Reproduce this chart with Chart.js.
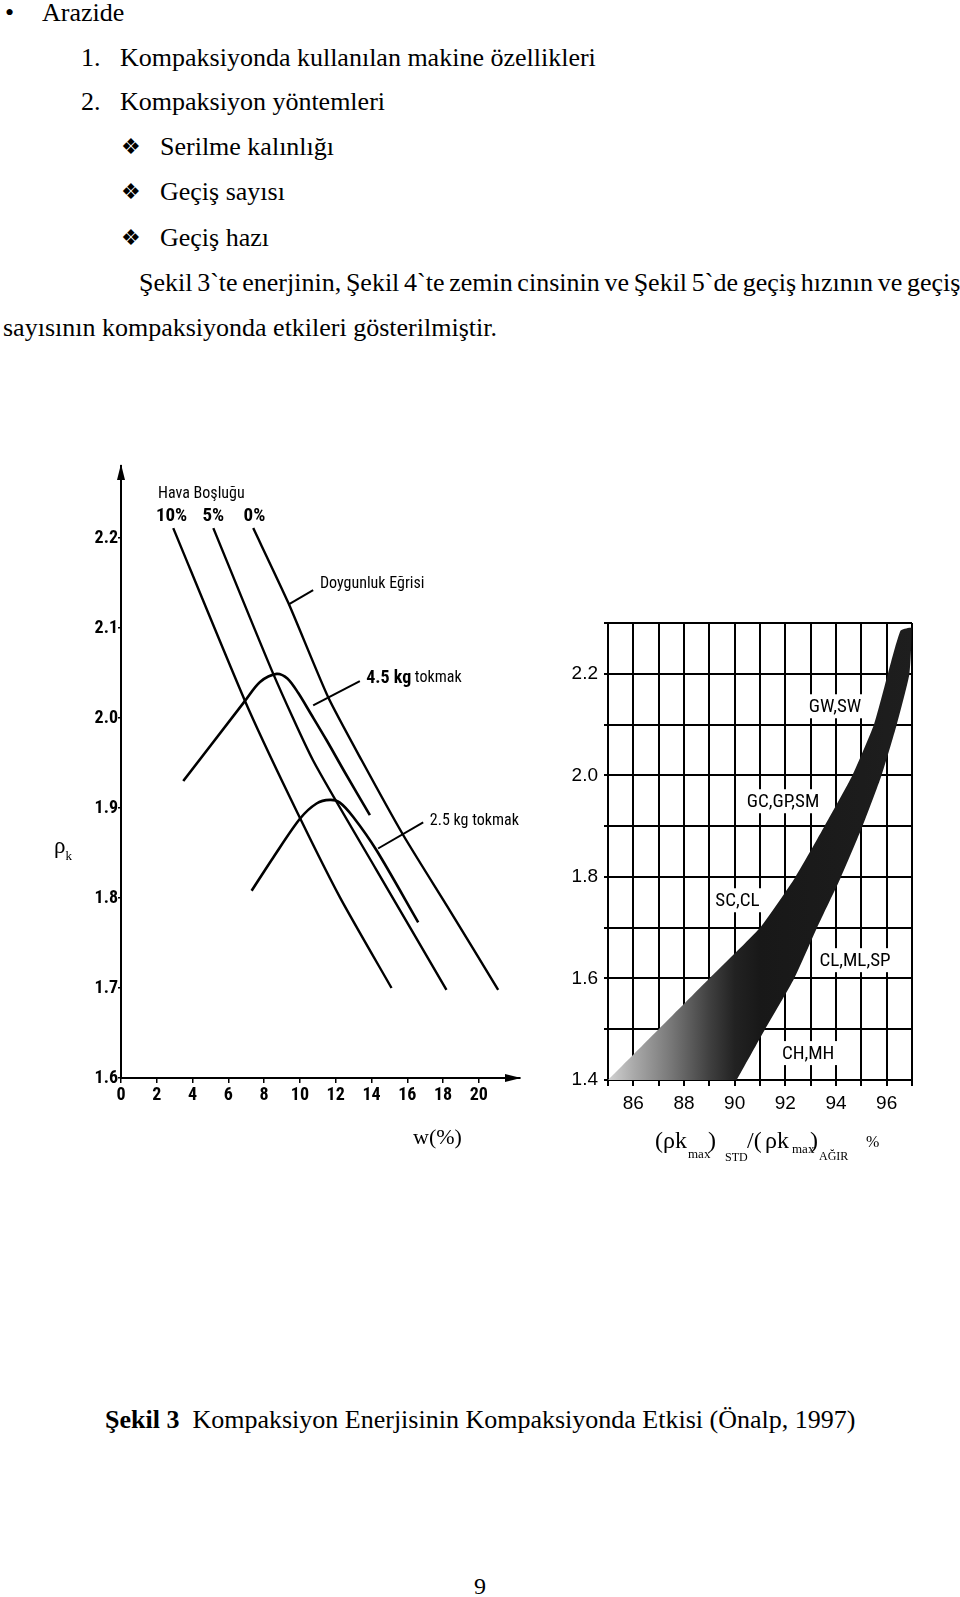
<!DOCTYPE html>
<html lang="tr">
<head>
<meta charset="utf-8">
<title>Şekil 3 - Kompaksiyon Enerjisi</title>
<script src="https://cdn.jsdelivr.net/npm/chart.js@4.4.0/dist/chart.umd.min.js"></script>
<style>
  html, body { margin: 0; padding: 0; background: #fff; }
  body { width: 960px; height: 1597px; position: relative; overflow: hidden;
         font-family: "Liberation Serif", "Times New Roman", serif; color: #000; }
  .ln { position: absolute; font-size: 26px; line-height: 44.8px; white-space: nowrap; }
  .dia { font-family: "DejaVu Sans", sans-serif; font-size: 22px; }
  .t { position: absolute; white-space: nowrap; line-height: 1; }
  canvas { position: absolute; }
</style>
</head>
<body>

<div class="ln" style="top:-9px;left:5px">•</div>
<div class="ln" style="top:-9px;left:42px">Arazide</div>
<div class="ln" style="top:36px;left:81px">1.</div>
<div class="ln" style="top:36px;left:120px">Kompaksiyonda kullanılan makine özellikleri</div>
<div class="ln" style="top:80px;left:81px">2.</div>
<div class="ln" style="top:80px;left:120px">Kompaksiyon yöntemleri</div>
<div class="ln dia" style="top:125px;left:121px">❖</div>
<div class="ln" style="top:125px;left:160px">Serilme kalınlığı</div>
<div class="ln dia" style="top:170px;left:121px">❖</div>
<div class="ln" style="top:170px;left:160px">Geçiş sayısı</div>
<div class="ln dia" style="top:216px;left:121px">❖</div>
<div class="ln" style="top:216px;left:160px">Geçiş hazı</div>
<div class="ln" style="top:261px;left:139px;word-spacing:-1.8px">Şekil 3`te enerjinin, Şekil 4`te zemin cinsinin ve Şekil 5`de geçiş hızının ve geçiş</div>
<div class="ln" style="top:306px;left:3px">sayısının kompaksiyonda etkileri gösterilmiştir.</div>

<canvas id="grafikSol" width="500" height="710" style="left:40px;top:450px"></canvas>
<canvas id="grafikSag" width="380" height="560" style="left:550px;top:600px"></canvas>

<!-- eksen başlıkları -->
<div class="t" style="left:54px;top:834px;font-size:23px">ρ<span style="font-size:13px;position:relative;top:7px">k</span></div>
<div class="t" style="left:413px;top:1126px;font-size:22px">w(%)</div>

<div class="t" style="left:655px;top:1128px;font-size:24px">(</div>
<div class="t" style="left:663px;top:1128px;font-size:24px">ρk</div>
<div class="t" style="left:688px;top:1147px;font-size:13px">max</div>
<div class="t" style="left:708px;top:1128px;font-size:24px">)</div>
<div class="t" style="left:725px;top:1151px;font-size:12px">STD</div>
<div class="t" style="left:747px;top:1128px;font-size:24px">/(</div>
<div class="t" style="left:765px;top:1128px;font-size:24px">ρk</div>
<div class="t" style="left:792px;top:1142px;font-size:13px">max</div>
<div class="t" style="left:810px;top:1128px;font-size:24px">)</div>
<div class="t" style="left:819px;top:1150px;font-size:12px">AĞIR</div>
<div class="t" style="left:866px;top:1134px;font-size:16px">%</div>

<div class="ln" style="top:1398px;left:105px"><b>Şekil 3</b>&nbsp; Kompaksiyon Enerjisinin Kompaksiyonda Etkisi (Önalp, 1997)</div>
<div class="ln" style="top:1564px;left:474px;font-size:24px">9</div>

<script>
var NAR = '"Liberation Sans Narrow", "Arial Narrow", "Roboto Condensed", "Liberation Sans", Arial, sans-serif';

// ---------- Sol grafik: su içeriği w(%) - kuru yoğunluk ρk ----------
var wEtiketleri = [0, 2, 4, 6, 8, 10, 12, 14, 16, 18, 20];
var rhoEtiketleri = [1.6, 1.7, 1.8, 1.9, 2.0, 2.1, 2.2];

// hava boşluğu eğrileri (10%, 5%, 0% = doygunluk eğrisi)
var hava10W = [2.92, 6.93, 9.44, 12.23, 15.12];
var hava10Rho = [2.211, 2.019, 1.912, 1.801, 1.700];
var hava5W = [5.16, 8.51, 10.73, 14.28, 18.19];
var hava5Rho = [2.211, 2.049, 1.953, 1.831, 1.698];
var hava0W = [7.39, 9.35, 11.58, 13.45, 15.77, 18.38, 21.08];
var hava0Rho = [2.211, 2.128, 2.023, 1.953, 1.870, 1.786, 1.698];

// kompaksiyon eğrileri
var tokmak45W = [3.48, 6.93, 7.77, 8.70, 9.30, 9.90, 10.60, 11.50, 12.50, 13.91];
var tokmak45Rho = [1.930, 2.019, 2.040, 2.049, 2.044, 2.028, 2.005, 1.975, 1.940, 1.892];
var tokmak25W = [7.30, 8.51, 10.00, 10.93, 11.68, 12.23, 12.98, 14.28, 16.61];
var tokmak25Rho = [1.808, 1.845, 1.888, 1.905, 1.909, 1.906, 1.890, 1.853, 1.773];

// açıklama çizgileri
var okDoygunW = [9.35, 10.74];
var okDoygunRho = [2.126, 2.142];
var ok45W = [10.74, 13.35];
var ok45Rho = [2.014, 2.041];
var ok25W = [14.37, 16.89];
var ok25Rho = [1.855, 1.884];

// ---------- Sağ grafik: (ρk max)STD / (ρk max)AĞIR % ----------
var oranMin = 85, oranMax = 97;
var yogMin = 1.4, yogMax = 2.3;
var bantSolX = [85.0, 87.0, 89.0, 91.0, 92.4, 93.55, 94.65, 95.5, 96.05, 96.55];
var bantSolY = [1.40, 1.50, 1.60, 1.70, 1.80, 1.90, 2.00, 2.10, 2.20, 2.285];
var bantSagX = [96.98, 96.9, 96.4, 95.8, 95.05, 94.2, 93.25, 92.35, 91.2, 90.08];
var bantSagY = [2.29, 2.20, 2.10, 2.00, 1.90, 1.80, 1.70, 1.60, 1.50, 1.40];

var zeminSiniflari = ['GW,SW', 'GC,GP,SM', 'SC,CL', 'CL,ML,SP', 'CH,MH'];
var sinifX = [93.96, 91.91, 90.11, 94.75, 92.9];
var sinifY = [2.136, 1.949, 1.754, 1.636, 1.453];

function noktalar(xs, ys) {
  return xs.map(function (x, i) { return { x: x, y: ys[i] }; });
}

function cizgi(xs, ys, kalinlik, gerginlik) {
  return {
    data: noktalar(xs, ys),
    borderColor: '#000',
    borderWidth: kalinlik,
    pointRadius: 0,
    tension: gerginlik,
    fill: false
  };
}

var solNotlar = [
  { w: 2.07, rho: 2.249, parcalar: [{ metin: 'Hava Boşluğu', font: '16px ' + NAR }] },
  { w: 1.95, rho: 2.224, parcalar: [{ metin: '10%', font: 'bold 19px ' + NAR }] },
  { w: 4.55, rho: 2.224, parcalar: [{ metin: '5%', font: 'bold 19px ' + NAR }] },
  { w: 6.85, rho: 2.224, parcalar: [{ metin: '0%', font: 'bold 19px ' + NAR }] },
  { w: 11.12, rho: 2.149, parcalar: [{ metin: 'Doygunluk Eğrisi', font: '16px ' + NAR }] },
  { w: 13.7, rho: 2.044, parcalar: [{ metin: '4.5 kg', font: 'bold 18px ' + NAR }, { metin: ' tokmak', font: '16px ' + NAR }] },
  { w: 17.26, rho: 1.886, parcalar: [{ metin: '2.5 kg tokmak', font: '16px ' + NAR }] }
];

var solYazilar = {
  id: 'solYazilar',
  afterDraw: function (chart) {
    var c = chart.ctx, xs = chart.scales.x, ys = chart.scales.y, a = chart.chartArea;
    c.save();
    c.fillStyle = '#000';
    c.textBaseline = 'middle';
    solNotlar.forEach(function (n) {
      var px = xs.getPixelForValue(n.w), py = ys.getPixelForValue(n.rho);
      n.parcalar.forEach(function (p) {
        c.font = p.font;
        c.fillText(p.metin, px, py);
        px += c.measureText(p.metin).width;
      });
    });
    // eksen okları
    c.beginPath();
    c.moveTo(a.left, a.top - 2);
    c.lineTo(a.left - 4, a.top + 14);
    c.lineTo(a.left + 4, a.top + 14);
    c.closePath();
    c.moveTo(a.right + 1, a.bottom);
    c.lineTo(a.right - 15, a.bottom - 4);
    c.lineTo(a.right - 15, a.bottom + 4);
    c.closePath();
    c.fill();
    c.restore();
  }
};

new Chart(document.getElementById('grafikSol').getContext('2d'), {
  type: 'line',
  data: {
    datasets: [
      cizgi(hava10W, hava10Rho, 2.4, 0.2),
      cizgi(hava5W, hava5Rho, 2.4, 0.2),
      cizgi(hava0W, hava0Rho, 2.4, 0.2),
      cizgi(tokmak45W, tokmak45Rho, 2.6, 0.3),
      cizgi(tokmak25W, tokmak25Rho, 2.6, 0.3),
      cizgi(okDoygunW, okDoygunRho, 2, 0),
      cizgi(ok45W, ok45Rho, 2, 0),
      cizgi(ok25W, ok25Rho, 2, 0)
    ]
  },
  options: {
    responsive: false,
    animation: false,
    layout: { padding: { left: 0, right: 20, top: 16, bottom: 0 } },
    plugins: { legend: { display: false }, tooltip: { enabled: false } },
    scales: {
      x: {
        type: 'linear',
        min: 0,
        max: 22.3,
        afterBuildTicks: function (s) { s.ticks = wEtiketleri.map(function (v) { return { value: v }; }); },
        afterFit: function (s) { s.height = 82; },
        border: { display: true, color: '#000', width: 2 },
        grid: { drawOnChartArea: false, color: '#000', lineWidth: 1.5, tickLength: 5 },
        ticks: { color: '#000', padding: 2, maxRotation: 0, autoSkip: false,
                 font: { family: NAR, size: 18, weight: 'bold' },
                 callback: function (v) { return String(v); } }
      },
      y: {
        type: 'linear',
        min: 1.6,
        max: 2.28,
        afterBuildTicks: function (s) { s.ticks = rhoEtiketleri.map(function (v) { return { value: v }; }); },
        afterFit: function (s) { s.width = 81; },
        border: { display: true, color: '#000', width: 2 },
        grid: { drawOnChartArea: false, color: '#000', lineWidth: 1.5, tickLength: 3 },
        ticks: { color: '#000', padding: 0, autoSkip: false,
                 font: { family: NAR, size: 18, weight: 'bold' },
                 callback: function (v) { return v.toFixed(1); } }
      }
    }
  },
  plugins: [solYazilar]
});

// sağ grafik: zemin sınıfı yazıları (beyaz zeminli)
var sagYazilar = {
  id: 'sagYazilar',
  afterDatasetsDraw: function (chart) {
    var c = chart.ctx, xs = chart.scales.x, ys = chart.scales.y;
    c.save();
    c.font = '19px ' + NAR;
    c.textAlign = 'center';
    c.textBaseline = 'middle';
    zeminSiniflari.forEach(function (ad, i) {
      var px = xs.getPixelForValue(sinifX[i]), py = ys.getPixelForValue(sinifY[i]);
      var gen = c.measureText(ad).width + 8;
      c.fillStyle = '#fff';
      c.fillRect(px - gen / 2, py - 12, gen, 24);
      c.fillStyle = '#000';
      c.fillText(ad, px, py + 1);
    });
    c.restore();
  }
};

function bantRengi(ctx) {
  var chart = ctx.chart;
  if (!chart.chartArea) return '#1c1c1c';
  var xs = chart.scales.x;
  var g = chart.ctx.createLinearGradient(xs.getPixelForValue(85), 0, xs.getPixelForValue(97), 0);
  g.addColorStop(0, '#d2d2d2');
  g.addColorStop(1 / 12, '#aaaaaa');
  g.addColorStop(2.5 / 12, '#777777');
  g.addColorStop(4 / 12, '#404040');
  g.addColorStop(5 / 12, '#222222');
  g.addColorStop(6 / 12, '#181818');
  g.addColorStop(1, '#1e1e1e');
  return g;
}

new Chart(document.getElementById('grafikSag').getContext('2d'), {
  type: 'line',
  data: {
    datasets: [{
      data: noktalar(bantSolX.concat(bantSagX), bantSolY.concat(bantSagY)),
      borderWidth: 0,
      borderColor: 'rgba(0,0,0,0)',
      backgroundColor: bantRengi,
      pointRadius: 0,
      tension: 0.15,
      fill: 'shape'
    }]
  },
  options: {
    responsive: false,
    animation: false,
    layout: { padding: { left: 0, right: 18, top: 23, bottom: 0 } },
    plugins: { legend: { display: false }, tooltip: { enabled: false } },
    scales: {
      x: {
        type: 'linear',
        min: oranMin,
        max: oranMax,
        afterFit: function (s) { s.height = 80; },
        border: { display: true, color: '#000', width: 2 },
        grid: { color: '#000', lineWidth: 2, tickLength: 6 },
        ticks: { stepSize: 1, color: '#000', padding: 6, maxRotation: 0, autoSkip: false,
                 font: { family: 'Liberation Sans, Arial, sans-serif', size: 19 },
                 callback: function (v) { return (v % 2 === 0 && v > 85 && v < 97) ? String(v) : ''; } }
      },
      y: {
        type: 'linear',
        min: yogMin,
        max: yogMax,
        afterFit: function (s) { s.width = 58; },
        border: { display: true, color: '#000', width: 2 },
        grid: { color: '#000', lineWidth: 2, tickLength: 4 },
        ticks: { stepSize: 0.1, color: '#000', padding: 6, autoSkip: false,
                 font: { family: 'Liberation Sans, Arial, sans-serif', size: 19 },
                 callback: function (v) {
                   var k = Math.round(v * 10);
                   return (k % 2 === 0 && k < 23) ? (k / 10).toFixed(1) : '';
                 } }
      }
    }
  },
  plugins: [sagYazilar]
});
</script>
</body>
</html>
